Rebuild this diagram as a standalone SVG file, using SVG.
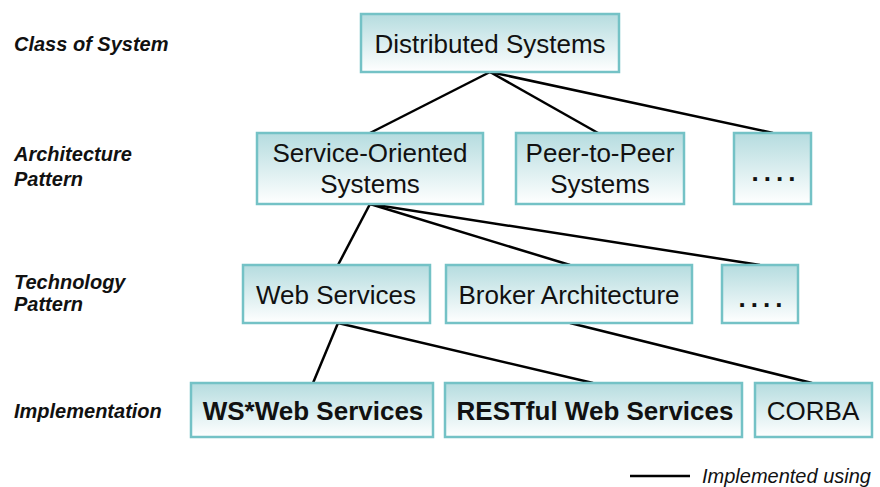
<svg xmlns="http://www.w3.org/2000/svg" width="880" height="487" viewBox="0 0 880 487">
<defs>
<linearGradient id="g" x1="0" y1="0" x2="0" y2="1">
<stop offset="0" stop-color="#b5dcdf"/>
<stop offset="1" stop-color="#ffffff"/>
</linearGradient>
<style>
.box{fill:url(#g);stroke:#74c2c6;stroke-width:2.5}
.t{font-family:"Liberation Sans",Arial,sans-serif;font-size:26px;fill:#111;text-anchor:middle}
.b{font-weight:bold}
.d{font-weight:bold;letter-spacing:5px}
.lab{font-family:"Liberation Sans",Arial,sans-serif;font-size:20px;font-weight:bold;font-style:italic;fill:#111}
.c{stroke:#000;stroke-width:2.5;fill:none}
</style>
</defs>
<rect width="880" height="487" fill="#fff"/>
<g id="labels">
<text class="lab" x="14" y="51">Class of System</text>
<text class="lab" x="14" y="161">Architecture</text>
<text class="lab" x="14" y="186">Pattern</text>
<text class="lab" x="14" y="289">Technology</text>
<text class="lab" x="14" y="311">Pattern</text>
<text class="lab" x="14" y="418">Implementation</text>
</g>
<g id="connectors">
<line class="c" x1="490" y1="72" x2="370" y2="133"/>
<line class="c" x1="490" y1="72" x2="598" y2="133"/>
<line class="c" x1="490" y1="72" x2="773" y2="133"/>
<line class="c" x1="370" y1="204" x2="338" y2="265"/>
<line class="c" x1="370" y1="204" x2="570" y2="265"/>
<line class="c" x1="370" y1="204" x2="760" y2="265"/>
<line class="c" x1="338" y1="323" x2="313" y2="383"/>
<line class="c" x1="338" y1="323" x2="593" y2="383"/>
<line class="c" x1="570" y1="323" x2="812" y2="383"/>
</g>
<g id="n-distributed">
<rect class="box" x="361" y="14" width="258" height="58"/>
<text class="t" x="490" y="53">Distributed Systems</text>
</g>
<g id="n-soa">
<rect class="box" x="257" y="133" width="226" height="71"/>
<text class="t" x="370" y="162">Service-Oriented</text>
<text class="t" x="370" y="193">Systems</text>
</g>
<g id="n-p2p">
<rect class="box" x="516" y="133" width="168" height="71"/>
<text class="t" x="600" y="162">Peer-to-Peer</text>
<text class="t" x="600" y="193">Systems</text>
</g>
<g id="n-more1">
<rect class="box" x="734" y="133" width="77" height="71"/>
<text class="t d" x="776" y="181">....</text>
</g>
<g id="n-ws">
<rect class="box" x="243" y="265" width="187" height="58"/>
<text class="t" x="336" y="304">Web Services</text>
</g>
<g id="n-broker">
<rect class="box" x="446" y="265" width="246" height="58"/>
<text class="t" x="569" y="304">Broker Architecture</text>
</g>
<g id="n-more2">
<rect class="box" x="722" y="265" width="76" height="58"/>
<text class="t d" x="763" y="307">....</text>
</g>
<g id="n-wsstar">
<rect class="box" x="191" y="383" width="242" height="54"/>
<text class="t b" x="313" y="420">WS*Web Services</text>
</g>
<g id="n-rest">
<rect class="box" x="445" y="383" width="297" height="54"/>
<text class="t b" x="595" y="420">RESTful Web Services</text>
</g>
<g id="n-corba">
<rect class="box" x="755" y="383" width="117" height="54"/>
<text class="t" x="813" y="420">CORBA</text>
</g>
<g id="legend">
<line class="c" x1="630" y1="476" x2="690" y2="476"/>
<text x="702" y="483" style="font-family:'Liberation Sans',Arial,sans-serif;font-size:20px;font-style:italic;fill:#111">Implemented using</text>
</g>
</svg>
